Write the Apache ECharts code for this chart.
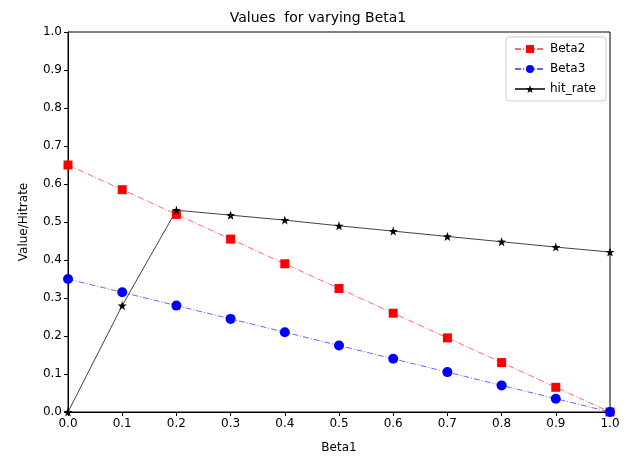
<!DOCTYPE html>
<html><head><meta charset="utf-8">
<script src="https://cdn.jsdelivr.net/npm/echarts@6/dist/echarts.min.js"></script>
<style>html,body{margin:0;padding:0;background:#fff}#c{width:636px;height:459px}</style>
</head><body><div id="c"></div>
<script>
const xValues = [0.0,0.1,0.2,0.3,0.4,0.5,0.6,0.7,0.8,0.9,1.0];
const beta2 = [0.65,0.585,0.52,0.455,0.39,0.325,0.26,0.195,0.13,0.065,0.0];
const beta3 = [0.35,0.315,0.28,0.245,0.21,0.175,0.14,0.105,0.07,0.035,0.0];
const hitRate = [0.0,0.28,0.531,0.518,0.505,0.49,0.476,0.462,0.448,0.434,0.421];
const pairs = a => xValues.map((x,i)=>[x,a[i]]);
const font = 'DejaVu Sans';
const chart = echarts.init(document.getElementById('c'));
chart.setOption({
  animation:false,
  title:{text:'Values  for varying Beta1',left:'center',top:6,textStyle:{fontFamily:font,fontSize:14,fontWeight:'normal',color:'#000'}},
  grid:{left:68,top:32,width:542,height:382,show:true,borderColor:'#000',borderWidth:1},
  legend:{orient:'vertical',right:30,top:37,itemWidth:30,itemHeight:10,itemGap:8,padding:[6,10,6,8],
    borderColor:'#ccc',borderWidth:1,borderRadius:3,
    textStyle:{fontFamily:font,fontSize:12,color:'#000'},
    data:['Beta2','Beta3','hit_rate']},
  xAxis:{type:'value',min:0,max:1,interval:0.1,name:'Beta1',nameLocation:'middle',nameGap:30,
    nameTextStyle:{fontFamily:font,fontSize:12,color:'#000'},
    axisLine:{onZero:false,lineStyle:{color:'#000'}},axisTick:{show:true,length:4,lineStyle:{color:'#000'}},
    axisLabel:{fontFamily:font,fontSize:12,color:'#000',formatter:v=>v.toFixed(1),margin:6},splitLine:{show:false}},
  yAxis:{type:'value',min:0,max:1,interval:0.1,name:'Value/Hitrate',nameLocation:'middle',nameGap:38,
    nameTextStyle:{fontFamily:font,fontSize:12,color:'#000'},
    axisLine:{onZero:false,lineStyle:{color:'#000'}},axisTick:{show:true,length:4,lineStyle:{color:'#000'}},
    axisLabel:{fontFamily:font,fontSize:12,color:'#000',formatter:v=>v.toFixed(1),margin:6},splitLine:{show:false}},
  series:[
    {name:'Beta2',type:'line',data:pairs(beta2),symbol:'rect',symbolSize:9,clip:false,
      itemStyle:{color:'#ff0000'},lineStyle:{color:'#ff0000',width:1,opacity:0.6,type:[6,2,1,2]}},
    {name:'Beta3',type:'line',data:pairs(beta3),symbol:'circle',symbolSize:10,clip:false,
      itemStyle:{color:'#0000ff'},lineStyle:{color:'#0000ff',width:1,opacity:0.6,type:[6,2,1,2]}},
    {name:'hit_rate',type:'line',data:pairs(hitRate),symbol:'path://M0,-10L2.35,-3.24L9.51,-3.09L3.8,1.24L5.88,8.09L0,4L-5.88,8.09L-3.8,1.24L-9.51,-3.09L-2.35,-3.24Z',symbolSize:9,clip:false,
      itemStyle:{color:'#000'},lineStyle:{color:'#000',width:1,opacity:0.75}}
  ]
});
</script></body></html>
